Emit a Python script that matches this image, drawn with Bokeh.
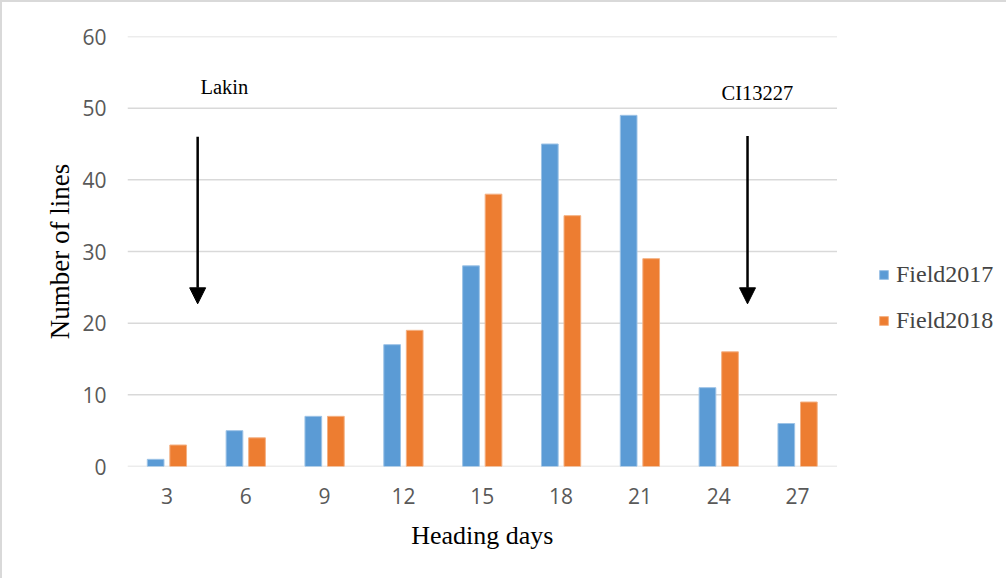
from bokeh.plotting import figure
from bokeh.models import Range1d, FixedTicker, Arrow, NormalHead, Legend, LegendItem, Label, Title
from bokeh.embed import file_html
from bokeh.resources import INLINE

# ---- data ----
heading_days = ["3", "6", "9", "12", "15", "18", "21", "24", "27"]
field2017 = [1, 5, 7, 17, 28, 45, 49, 11, 6]
field2018 = [3, 4, 7, 19, 38, 35, 29, 16, 9]
y_ticks = [0, 10, 20, 30, 40, 50, 60]
annotations = ["Lakin", "CI13227"]
x_title = "Heading days"
y_title = "Number of lines"

BLUE = "#5B9BD5"
ORANGE = "#ED7D31"
SERIF = "Liberation Serif"
SANS = "Open Sans"

W, H = 1006, 578
LEFT, RIGHT, TOP, BOTTOM = 125, 6, 34, H - 464
cat_px = 709.5 / len(heading_days)          # pixel width of one category
x_end = (W - LEFT - RIGHT) / cat_px          # frame spans past the bars to hold the legend

p = figure(width=W, height=H, output_backend="svg", toolbar_location=None,
           x_range=Range1d(0, x_end), y_range=Range1d(0, 60),
           min_border_left=LEFT, min_border_right=RIGHT, min_border_top=TOP,
           min_border_bottom=BOTTOM)
p.outline_line_color = None
p.background_fill_color = "white"
p.border_fill_color = "white"

n = len(heading_days)
# horizontal gridlines over the category area only
p.segment(x0=[0] * len(y_ticks), x1=[n] * len(y_ticks), y0=y_ticks, y1=y_ticks,
          line_color="#D9D9D9", line_width=1.5)

centers = [i + 0.5 for i in range(n)]
off = 0.143
bw = 0.212
r1 = p.vbar(x=[c - off for c in centers], top=field2017, width=bw, bottom=0,
            fill_color=BLUE, line_color="#9DC3E6", line_width=1)
r2 = p.vbar(x=[c + off for c in centers], top=field2018, width=bw, bottom=0,
            fill_color=ORANGE, line_color="#F4B183", line_width=1)

# axes
p.xaxis.ticker = FixedTicker(ticks=centers)
p.xaxis.major_label_overrides = {c: lab for c, lab in zip(centers, heading_days)}
p.yaxis.ticker = FixedTicker(ticks=y_ticks)
for ax in (p.xaxis[0], p.yaxis[0]):
    ax.axis_line_color = None
    ax.major_tick_line_color = None
    ax.minor_tick_line_color = None
    ax.major_tick_out = 0
    ax.major_tick_in = 0
    ax.minor_tick_out = 0
    ax.minor_tick_in = 0
    ax.major_label_text_font = SANS
    ax.major_label_text_font_size = "21px"
    ax.major_label_text_color = "#595959"
    ax.axis_label_text_font = SERIF
    ax.axis_label_text_font_style = "normal"
    ax.axis_label_text_color = "black"
p.yaxis.axis_label_text_font_size = "27px"
p.yaxis.axis_label = y_title
p.yaxis.major_label_standoff = 21
p.xaxis.major_label_standoff = 21
p.yaxis.axis_label_standoff = 4

p.xgrid.grid_line_color = None
p.ygrid.grid_line_color = None

# x-axis title centred under the category area (not the wider frame)
title_w = 142.2
p.add_layout(Title(text=x_title, text_font=SERIF, text_font_size="26px",
                   text_font_style="normal", text_color="black", align="left",
                   offset=(709.5 / 2 - title_w / 2), standoff=25), "below")

# arrows and their labels
for xa, ys, ye in [(0.89, 46.0, 22.7), (7.865, 46.1, 22.7)]:
    p.add_layout(Arrow(end=NormalHead(size=16, fill_color="black", line_color="black"),
                       x_start=xa, y_start=ys, x_end=xa, y_end=ye,
                       line_color="black", line_width=2.5))
for txt, xt, yt in zip(annotations, [1.228, 7.99], [53.0, 52.1]):
    p.add_layout(Label(x=xt, y=yt, text=txt, text_font=SERIF, text_font_size="20.5px",
                       text_align="center", text_baseline="alphabetic", text_color="black"))

legend = Legend(items=[LegendItem(label="Field2017", renderers=[r1]),
                       LegendItem(label="Field2018", renderers=[r2])],
                location=(751, 132), orientation="vertical",
                glyph_width=11, glyph_height=11, label_standoff=7,
                label_text_font=SERIF, label_text_font_size="24px",
                label_height=20, spacing=19, padding=0, margin=0,
                border_line_color=None, background_fill_alpha=0)
p.add_layout(legend)

p.styles = {"border-left": "2px solid #D9D9D9", "border-top": "2px solid #D9D9D9",
            "box-sizing": "border-box"}

open("out.html", "w").write(file_html(p, INLINE))
